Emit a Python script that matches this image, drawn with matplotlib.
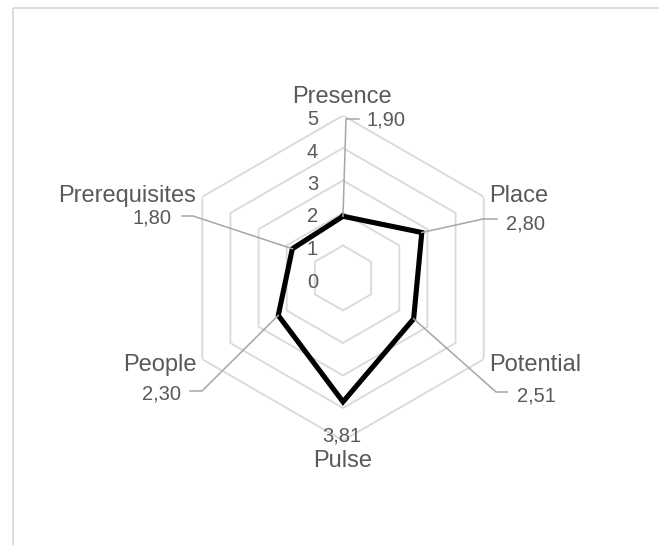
import numpy as np
import matplotlib
matplotlib.use('Agg')
import matplotlib.pyplot as plt

# data
categories = ['Presence', 'Place', 'Potential', 'Pulse', 'People', 'Prerequisites']
values = [1.90, 2.80, 2.51, 3.81, 2.30, 1.80]
value_labels = ['1,90', '2,80', '2,51', '3,81', '2,30', '1,80']
ticks = [0, 1, 2, 3, 4, 5]

W, H = 659, 545
TXT = '#595959'
GRID = '#d9d9d9'
LEADER = '#a6a6a6'
plt.rcParams['font.family'] = ['Liberation Sans', 'DejaVu Sans']

fig = plt.figure(figsize=(W / 100, H / 100), dpi=100)

# radar area: center (343, 278) px, radius 162.5 px for r=5
cx, cy, R = 343, 278, 162.5
ax = fig.add_axes([(cx - R) / W, (H - cy - R) / H, 2 * R / W, 2 * R / H], polar=True)
ax.set_theta_offset(np.pi / 2)
ax.set_theta_direction(-1)
ax.set_ylim(0, 5)
ax.grid(False)
ax.set_xticks([])
ax.set_yticks([])
ax.spines['polar'].set_visible(False)
ax.patch.set_alpha(0)

n = len(categories)
theta = np.linspace(0, 2 * np.pi, n, endpoint=False)
th_closed = np.append(theta, theta[0])

for t in ticks[1:]:
    ax.plot(th_closed, [t] * (n + 1), color=GRID, lw=1.3, zorder=1)

vals_closed = values + [values[0]]
ax.plot(th_closed, vals_closed, color='black', lw=3.7, solid_joinstyle='miter', zorder=3)

# overlay in pixel coords for labels and leader lines
ov = fig.add_axes([0, 0, 1, 1])
ov.set_xlim(0, W)
ov.set_ylim(H, 0)
ov.axis('off')
ov.patch.set_alpha(0)

# chart area border (top and left visible)
ov.plot([12.5, W], [7.5, 7.5], color=GRID, lw=1.3, solid_capstyle='butt')
ov.plot([12.5, 12.5], [7.5, H], color=GRID, lw=1.3, solid_capstyle='butt')

fig.canvas.draw()

def to_px(th, r):
    x, y = ax.transData.transform((th, r))
    return x, H - y

# tick labels along the top spoke
for t in ticks:
    _, py = to_px(0, t)
    ov.text(318, py + 9.5, str(t), ha='right', va='baseline', fontsize=14.5, color=TXT)

# category label positions (center x, baseline y)
cat_pos = [(342, 103), (519, 202), (535, 371), (343, 467), (160, 371), (127, 202)]
for name, (x, y) in zip(categories, cat_pos):
    ov.text(x, y, name, ha='center', va='baseline', fontsize=17, color=TXT)

# data labels with leader lines: (label x, baseline y, ha, elbow, end)
lab_layout = [
    (367, 126, 'left', (346, 119), (359, 119)),
    (506, 229, 'left', (483, 219), (497, 219)),
    (517, 401, 'left', (496, 392), (507, 392)),
    (342, 442, 'center', None, None),
    (181, 400, 'right', (202, 391), (190, 391)),
    (172, 224, 'right', (193, 216), (182, 216)),
]
for th, v, lab, (lx, ly, ha, elbow, end) in zip(theta, values, value_labels, lab_layout):
    if elbow is not None:
        px, py = to_px(th, v)
        ov.plot([px, elbow[0], end[0]], [py, elbow[1], end[1]], color=LEADER, lw=1.1, zorder=2)
    ov.text(lx, ly, lab, ha=ha, va='baseline', fontsize=14.5, color=TXT)

fig.savefig('out.png', dpi=100)
